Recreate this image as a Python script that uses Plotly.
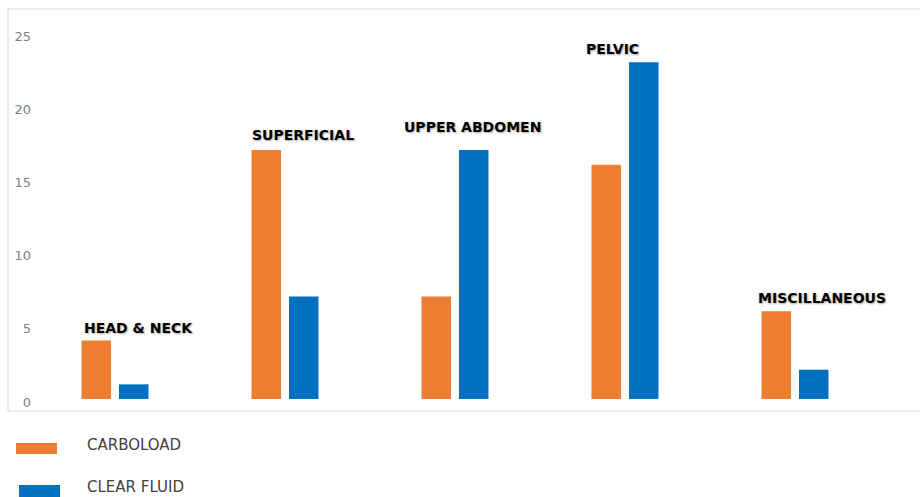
import plotly.graph_objects as go

# ---- data ----
categories = ["HEAD & NECK", "SUPERFICIAL", "UPPER ABDOMEN", "PELVIC", "MISCILLANEOUS"]
carboload = [4, 17, 7, 16, 6]
clear_fluid = [1, 7, 17, 23, 2]
series_names = ["CARBOLOAD", "CLEAR FLUID"]
y_ticks = [0, 5, 10, 15, 20, 25]

# label placement (category-index offset, y value)
label_dx = [-0.196, -0.206, -0.314, -0.241, -0.23]
label_y = [4.85, 18.05, 18.6, 23.9, 6.9]

ORANGE = "#ED7D31"
BLUE = "#0070C0"

W, H = 920, 497
L, R, T, B = 35, 0, 9, 86
PW, PH = W - L - R, H - T - B


def px(x):
    return (x - L) / PW


def py(y):
    return (H - B - y) / PH


fig = go.Figure()
fig.add_trace(go.Bar(x=categories, y=carboload, name=series_names[0],
                     marker=dict(color=ORANGE, line=dict(width=0)), showlegend=False))
fig.add_trace(go.Bar(x=categories, y=clear_fluid, name=series_names[1],
                     marker=dict(color=BLUE, line=dict(width=0)), showlegend=False))

annotations = []
for i, (c, dx, ly) in enumerate(zip(categories, label_dx, label_y)):
    annotations.append(dict(
        x=i + dx, y=ly, xref="x", yref="y", text="<b>" + c + "</b>",
        showarrow=False, xanchor="left", yanchor="middle",
        font=dict(family="DejaVu Sans", size=14, color="#000000",
                  shadow="1px 1px 2px rgba(0,0,0,0.35)")))

# manual legend
shapes = [
    dict(type="rect", xref="paper", yref="paper", x0=px(8), x1=1.01, y0=0, y1=1,
         line=dict(color="#d9d9d9", width=1), fillcolor="rgba(0,0,0,0)", layer="below"),
    dict(type="rect", xref="paper", yref="paper", x0=px(16), x1=px(57), y0=py(454), y1=py(443),
         line=dict(width=0), fillcolor=ORANGE),
    dict(type="rect", xref="paper", yref="paper", x0=px(19), x1=px(60), y0=py(497), y1=py(485),
         line=dict(width=0), fillcolor=BLUE),
]
for name, yc in zip(series_names, [445, 487]):
    annotations.append(dict(
        x=px(86), y=py(yc), xref="paper", yref="paper", text=name, showarrow=False,
        xanchor="left", yanchor="middle", borderpad=0,
        font=dict(family="DejaVu Sans", size=15, color="#404040")))

fig.update_layout(
    width=W, height=H,
    margin=dict(l=L, r=R, t=T, b=B, pad=0),
    paper_bgcolor="white", plot_bgcolor="white",
    barmode="group", bargap=0.559, bargroupgap=0.213,
    xaxis=dict(type="category", range=[-0.4706, 4.7353], showticklabels=False,
               showgrid=False, zeroline=False, showline=False, ticks=""),
    yaxis=dict(range=[-0.82, 26.64], tickvals=y_ticks, showgrid=False, zeroline=False,
               showline=False, ticks="", ticklabelstandoff=3, ticklabelshift=3,
               tickfont=dict(family="DejaVu Sans", size=13, color="#7f7f7f")),
    annotations=annotations,
    shapes=shapes,
)

fig.write_html("out.html")
